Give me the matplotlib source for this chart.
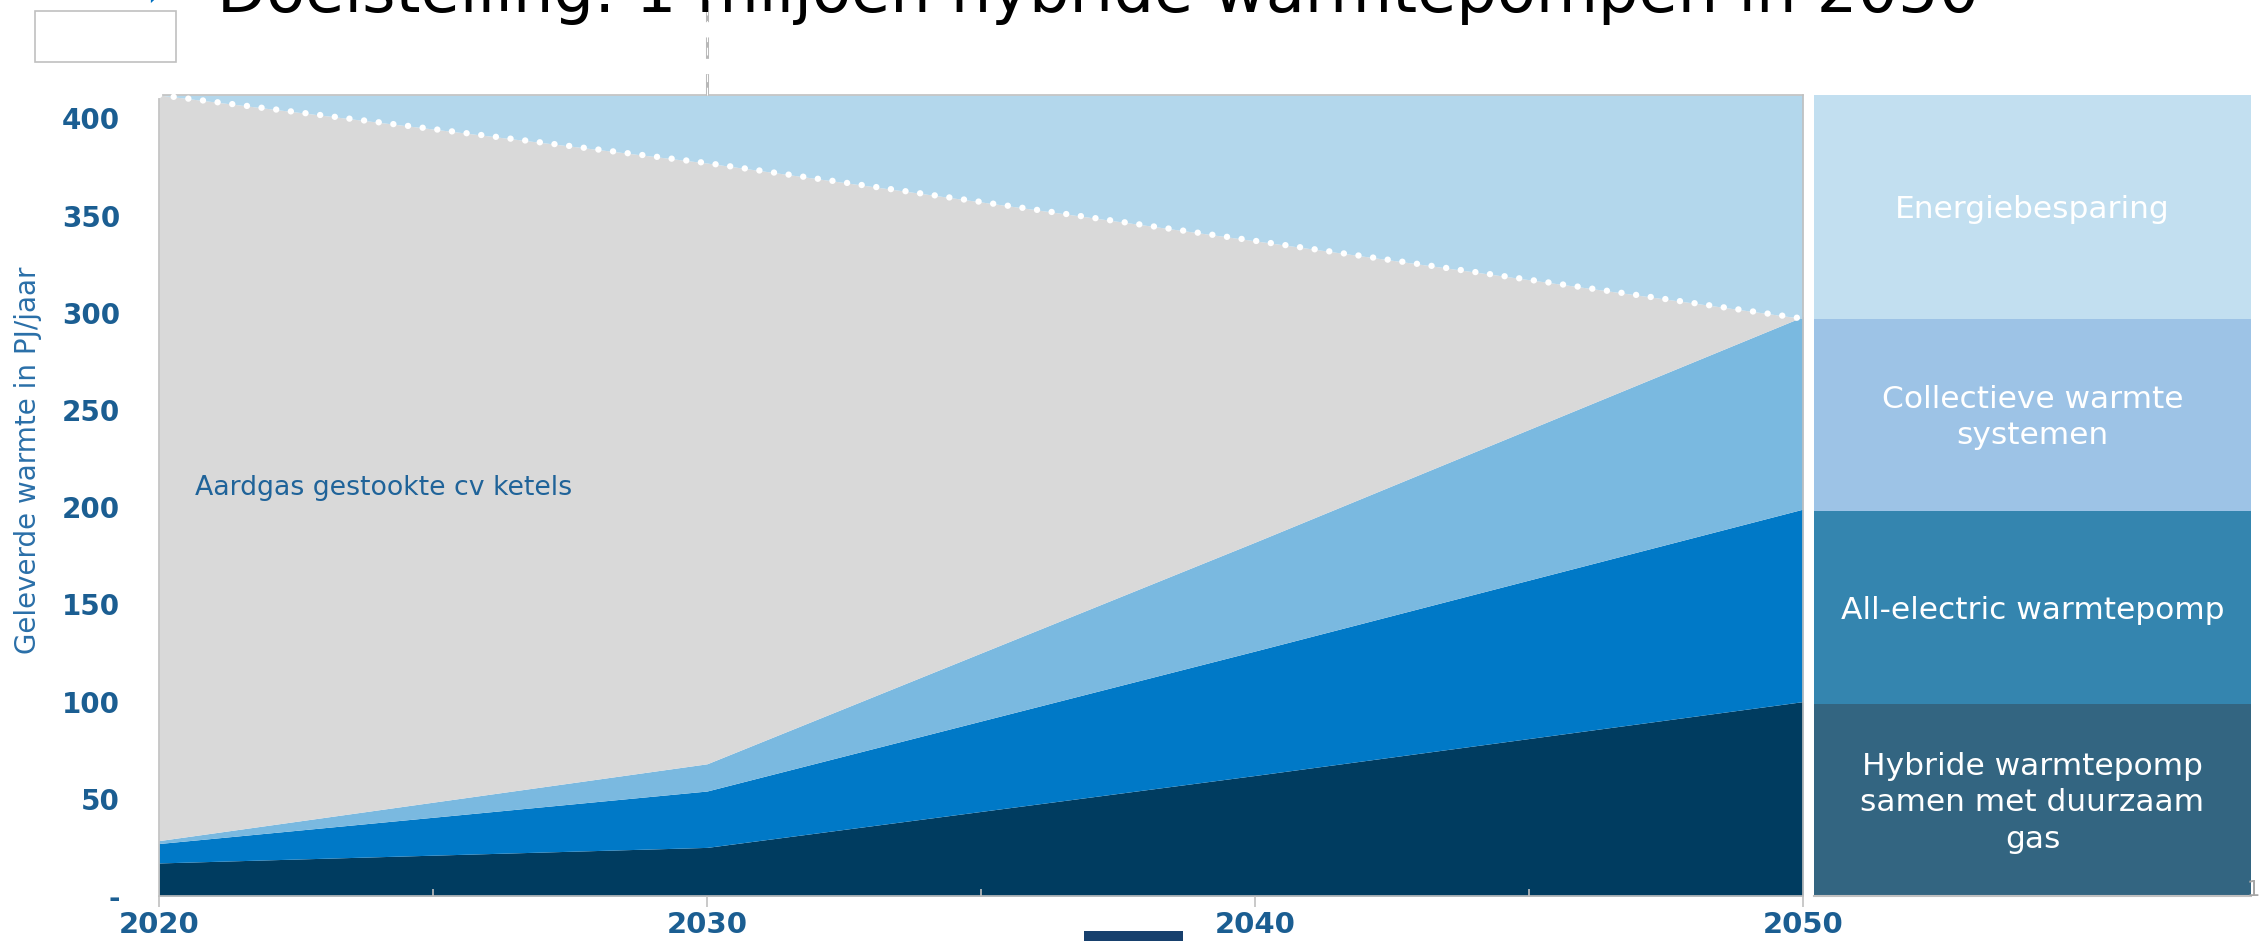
import matplotlib
matplotlib.use("Agg")
import matplotlib.pyplot as plt
from matplotlib.patches import Rectangle
from matplotlib.lines import Line2D


# Gegevens (PJ/jaar)
jaren = [2020, 2030, 2040, 2050]
hybride = [17, 25, 62, 100]
all_electric = [10, 29, 64, 99]
collectief = [1.5, 14, 56, 99]
totaal = [412, 377, 337, 297]   # bovenkant aardgas (gestippelde lijn)
y_max = 412

y_ticks = [0, 50, 100, 150, 200, 250, 300, 350, 400]
y_labels = ["-", "50", "100", "150", "200", "250", "300", "350", "400"]
x_ticks = [2020, 2030, 2040, 2050]

paneel_grenzen = [0, 99, 198, 297, 412]
paneel_teksten = ["Hybride warmtepomp\nsamen met duurzaam\ngas",
                  "All-electric warmtepomp",
                  "Collectieve warmte\nsystemen",
                  "Energiebesparing"]

# Kleuren
kl_hybride = "#003C60"
kl_elec = "#0079C7"
kl_coll = "#7AB9E0"
kl_gas = "#D9D9D9"
kl_besp = "#B3D7EC"
paneel_kleuren = ["#336581", "#3485AF", "#9DC3E6", "#C2DFF0"]
blauw_tekst = "#1B5E92"
grijs = "#C0C0C0"

W, H = 2265, 941
fig = plt.figure(figsize=(W / 100, H / 100), dpi=100)

ax = fig.add_axes([159 / W, 1 - 896 / H, (1803 - 159) / W, (896 - 95) / H])

# gestapelde vlakken
c1 = [h for h in hybride]
c2 = [a + b for a, b in zip(c1, all_electric)]
c3 = [a + b for a, b in zip(c2, collectief)]
ax.fill_between(jaren, 0, c1, color=kl_hybride, lw=0)
ax.fill_between(jaren, c1, c2, color=kl_elec, lw=0)
ax.fill_between(jaren, c2, c3, color=kl_coll, lw=0)
ax.fill_between(jaren, c3, totaal, color=kl_gas, lw=0)
ax.fill_between(jaren, totaal, y_max, color=kl_besp, lw=0)

# witte stippellijn
ax.plot(jaren, totaal, color="white", lw=4.6, linestyle=(0, (0.01, 2.3)),
        dash_capstyle="round", clip_on=False, zorder=5)

ax.set_xlim(2020, 2050)
ax.set_ylim(0, y_max)

ax.set_yticks(y_ticks)
ax.set_yticklabels(y_labels, fontsize=20, fontweight="bold", color=blauw_tekst)
ax.tick_params(axis="y", length=0, pad=28)

ax.set_xticks(x_ticks)
ax.set_xticklabels([str(j) for j in x_ticks], fontsize=21, fontweight="bold", color=blauw_tekst)
ax.set_xticks([2025, 2035, 2045], minor=True)
ax.tick_params(axis="x", which="major", direction="out", length=8, width=1.2, color=grijs, pad=3)
ax.tick_params(axis="x", which="minor", direction="in", length=5, width=1.2, color=grijs)

for s in ax.spines.values():
    s.set_color(grijs)
    s.set_linewidth(1.2)

ax.set_ylabel("Geleverde warmte in PJ/jaar", fontsize=20, color="#2A6FA8",
              family=["Liberation Sans Narrow", "DejaVu Sans"])
ax.yaxis.set_label_coords(-0.071, 0.544)

ax.text(2020.66, 210, "Aardgas gestookte cv ketels", fontsize=19.3,
        color="#1F6399", va="center", ha="left")

# paneel rechts met legenda
ax2 = fig.add_axes([1814 / W, 1 - 896 / H, (2251 - 1814) / W, (896 - 95) / H])
for i in range(4):
    onder = paneel_grenzen[i]
    hoogte = paneel_grenzen[i + 1] - paneel_grenzen[i]
    ax2.bar(0.5, hoogte, bottom=onder, width=1, color=paneel_kleuren[i], lw=0)
    ax2.text(0.5, onder + hoogte / 2 - 1.5, paneel_teksten[i], ha="center", va="center",
             color="white", fontsize=22.5, linespacing=1.32)
ax2.set_xlim(0, 1)
ax2.set_ylim(0, y_max)
ax2.set_xticks([])
ax2.set_yticks([])
for k in ["top", "left", "right"]:
    ax2.spines[k].set_visible(False)
ax2.spines["bottom"].set_color(grijs)
ax2.spines["bottom"].set_linewidth(1.5)

# titel (grotendeels buiten beeld, zoals op de dia)
fig.text(217 / W, 1 - 12 / H, "Doelstelling: 1 miljoen hybride warmtepompen in 2050",
         fontsize=46, color="black", va="baseline", ha="left")
fig.text(146 / W, 1 - 6 / H, "›", fontsize=30, color="#0070C0", va="baseline", ha="left")

# leeg kader linksboven
fig.patches.append(Rectangle((35 / W, 1 - 62 / H), 141 / W, 51 / H,
                             transform=fig.transFigure, facecolor="white",
                             edgecolor=grijs, lw=1.2))

# gestreepte verticale lijn boven 2030
x_2030 = 707 / W
fig.add_artist(Line2D([x_2030, x_2030], [1 - 95 / H, 1.0], transform=fig.transFigure,
                      color="#B8B8B8", lw=2.2, linestyle=(0, (7, 5))))
fig.add_artist(Line2D([x_2030, x_2030], [1 - 95 / H, 1.0], transform=fig.transFigure,
                      color="white", lw=0.8, linestyle=(0, (7, 5))))

# donkerblauw blokje onderaan
fig.patches.append(Rectangle((1084 / W, 0), 99 / W, 10 / H, transform=fig.transFigure,
                             facecolor="#17406D", edgecolor="none"))

# paginanummer
fig.text(2253 / W, 1 - 900 / H, "1", fontsize=15, color="#A6A6A6", ha="center", va="bottom")

fig.savefig("out.png", dpi=100)
